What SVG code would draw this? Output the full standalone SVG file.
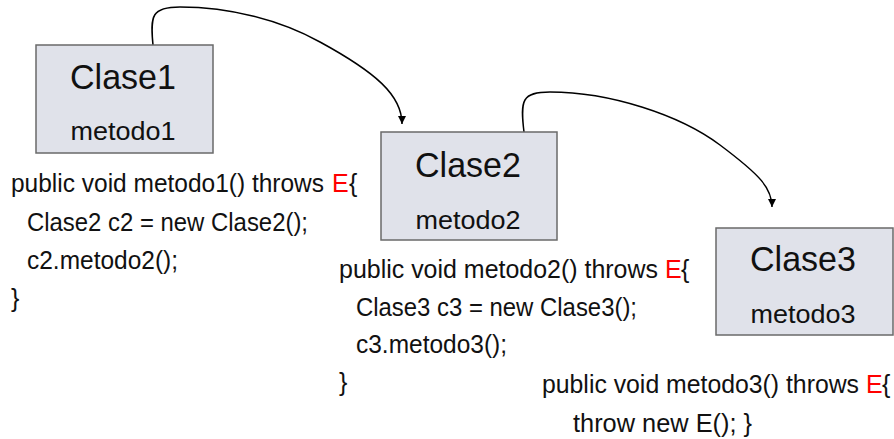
<svg xmlns="http://www.w3.org/2000/svg" width="894" height="439" viewBox="0 0 894 439">
<defs>
<style>
.box{fill:#e0e2ea;stroke:#6a6a6a;stroke-width:1.5}
.title{font-family:"Liberation Sans",Arial,sans-serif;font-size:35px;fill:#111;text-anchor:middle}
.meth{font-family:"Liberation Sans",Arial,sans-serif;font-size:25px;fill:#111;text-anchor:middle}
.code{font-family:"Liberation Sans",Arial,sans-serif;font-size:25px;fill:#111}
.red{fill:#ff0000}
.conn{fill:none;stroke:#000;stroke-width:1.5}
</style>
<marker id="arr" viewBox="0 0 10 10" refX="10" refY="5" markerWidth="8" markerHeight="8" markerUnits="userSpaceOnUse" orient="auto">
<path d="M0,0 L10,5 L0,10 z" fill="#000"/>
</marker>
</defs>
<rect width="894" height="439" fill="#fff"/>
<g id="connectors">
<path class="conn" d="M153,45 C150,15 152,7 180,7 C230,7 280,20 320,42 C375,72 402,95 402,124" marker-end="url(#arr)"/>
<path class="conn" d="M524,132 C520,100 522,92 550,92 C610,92 680,115 720,145 C760,175 772,188 772,207" marker-end="url(#arr)"/>
</g>
<g id="clase1">
<rect class="box" x="36" y="45" width="177" height="108"/>
<text class="title" x="123" y="89" textLength="106" lengthAdjust="spacingAndGlyphs">Clase1</text>
<text class="meth" x="123" y="140" textLength="105" lengthAdjust="spacingAndGlyphs">metodo1</text>
</g>
<g id="clase2">
<rect class="box" x="381" y="132" width="176" height="108"/>
<text class="title" x="468" y="177" textLength="106" lengthAdjust="spacingAndGlyphs">Clase2</text>
<text class="meth" x="468" y="229" textLength="105" lengthAdjust="spacingAndGlyphs">metodo2</text>
</g>
<g id="clase3">
<rect class="box" x="716" y="228" width="177" height="107"/>
<text class="title" x="803" y="271" textLength="106" lengthAdjust="spacingAndGlyphs">Clase3</text>
<text class="meth" x="803" y="323" textLength="105" lengthAdjust="spacingAndGlyphs">metodo3</text>
</g>
<g id="code1">
<text class="code" x="11" y="192" textLength="313" lengthAdjust="spacingAndGlyphs">public void metodo1() throws</text>
<text class="code red" x="332" y="192">E</text>
<text class="code" x="349" y="192">{</text>
<text class="code" x="27" y="231" textLength="281" lengthAdjust="spacingAndGlyphs">Clase2 c2 = new Clase2();</text>
<text class="code" x="27" y="269" textLength="151" lengthAdjust="spacingAndGlyphs">c2.metodo2();</text>
<text class="code" x="11" y="307">}</text>
</g>
<g id="code2">
<text class="code" x="339" y="278" textLength="319" lengthAdjust="spacingAndGlyphs">public void metodo2() throws</text>
<text class="code red" x="665" y="278">E</text>
<text class="code" x="681" y="278">{</text>
<text class="code" x="356" y="316" textLength="281" lengthAdjust="spacingAndGlyphs">Clase3 c3 = new Clase3();</text>
<text class="code" x="356" y="353" textLength="151" lengthAdjust="spacingAndGlyphs">c3.metodo3();</text>
<text class="code" x="339" y="391">}</text>
</g>
<g id="code3">
<text class="code" x="542" y="393" textLength="317" lengthAdjust="spacingAndGlyphs">public void metodo3() throws</text>
<text class="code red" x="866" y="393">E</text>
<text class="code" x="882" y="393">{</text>
<text class="code" x="573" y="432" textLength="179" lengthAdjust="spacingAndGlyphs">throw new E(); }</text>
</g>
</svg>
